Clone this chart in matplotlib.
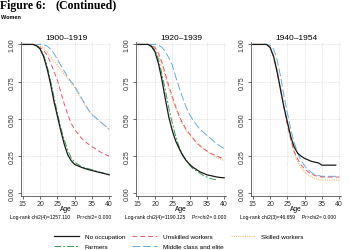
import numpy as np
import matplotlib
matplotlib.use("Agg")
import matplotlib.pyplot as plt
from matplotlib.lines import Line2D

plt.rcParams['font.family'] = ['Liberation Sans', 'DejaVu Sans']

age = [15, 18, 19, 20, 21, 22, 23, 24, 25, 26, 27, 28, 29, 30, 31, 32, 33, 34, 35, 36, 37, 38, 39, 40]

# 1900-1919
p1_none = [1, 1, 0.99, 0.97, 0.92, 0.84, 0.74, 0.62, 0.52, 0.42, 0.33, 0.26, 0.22, 0.195, 0.185, 0.175, 0.167, 0.16, 0.154, 0.148, 0.142, 0.137, 0.131, 0.125]
p1_farm = [1, 1, 0.99, 0.975, 0.93, 0.86, 0.76, 0.65, 0.54, 0.44, 0.36, 0.29, 0.24, 0.21, 0.195, 0.18, 0.172, 0.166, 0.16, 0.152, 0.145, 0.139, 0.133, 0.128]
p1_unsk = [1, 1, 0.99, 0.98, 0.96, 0.93, 0.88, 0.82, 0.76, 0.68, 0.60, 0.53, 0.47, 0.43, 0.40, 0.37, 0.35, 0.33, 0.315, 0.30, 0.285, 0.27, 0.26, 0.25]
p1_skil = [1, 1, 0.995, 0.99, 0.975, 0.95, 0.92, 0.89, 0.86, 0.83, 0.80, 0.77, 0.74, 0.71, 0.67, 0.63, 0.59, 0.56, 0.53, 0.51, 0.49, 0.47, 0.45, 0.43]
p1_midd = [1, 1, 1, 1, 0.998, 0.99, 0.97, 0.94, 0.90, 0.86, 0.82, 0.78, 0.75, 0.72, 0.68, 0.64, 0.60, 0.56, 0.53, 0.51, 0.49, 0.47, 0.45, 0.43]

# 1920-1939
p2_none = [1, 1, 0.985, 0.95, 0.87, 0.76, 0.63, 0.51, 0.42, 0.35, 0.30, 0.255, 0.22, 0.195, 0.175, 0.16, 0.145, 0.135, 0.125, 0.12, 0.115, 0.11, 0.107, 0.105]
p2_farm = [1, 1, 0.99, 0.96, 0.90, 0.80, 0.69, 0.57, 0.47, 0.38, 0.31, 0.26, 0.225, 0.19, 0.165, 0.15, 0.135, 0.12, 0.11, 0.10, 0.095, 0.09]
p2_unsk = [1, 1, 0.995, 0.98, 0.94, 0.88, 0.80, 0.72, 0.65, 0.58, 0.52, 0.47, 0.43, 0.40, 0.37, 0.34, 0.32, 0.30, 0.285, 0.27, 0.26, 0.25, 0.24, 0.23]
p2_skil = [1, 1, 0.99, 0.97, 0.93, 0.86, 0.78, 0.70, 0.63, 0.57, 0.51, 0.46, 0.42, 0.39, 0.365, 0.34, 0.32, 0.30, 0.285, 0.27, 0.255, 0.24, 0.23, 0.22]
p2_midd = [1, 1, 1, 1, 0.995, 0.98, 0.95, 0.91, 0.86, 0.78, 0.71, 0.64, 0.58, 0.53, 0.49, 0.46, 0.43, 0.41, 0.39, 0.37, 0.35, 0.33, 0.315, 0.30]

# 1940-1954 (no farmers)
p3_none = [1, 1, 1, 0.98, 0.92, 0.82, 0.70, 0.58, 0.48, 0.38, 0.31, 0.27, 0.25, 0.235, 0.225, 0.215, 0.21, 0.205, 0.19, 0.19, 0.19, 0.19, 0.19]
p3_unsk = [1, 1, 1, 0.98, 0.92, 0.82, 0.70, 0.58, 0.46, 0.36, 0.28, 0.23, 0.19, 0.165, 0.145, 0.13, 0.12, 0.115, 0.11, 0.11, 0.11, 0.11, 0.11, 0.11]
p3_skil = [1, 1, 1, 0.98, 0.93, 0.84, 0.72, 0.59, 0.47, 0.36, 0.27, 0.21, 0.17, 0.145, 0.125, 0.11, 0.10, 0.095, 0.09, 0.09, 0.09, 0.09, 0.09, 0.09]
p3_midd = [1, 1, 1, 0.995, 0.97, 0.90, 0.79, 0.66, 0.54, 0.43, 0.34, 0.27, 0.22, 0.185, 0.16, 0.14, 0.125, 0.12, 0.115, 0.115, 0.115, 0.115, 0.115, 0.115]

titles = ["1900\u20131919", "1920\u20131939", "1940\u20131954"]
notes = ["Log-rank chi2(4)=1257.110     Pr>chi2= 0.000",
         "Log-rank chi2(4)=1190.125     Pr>chi2= 0.000",
         "Log-rank chi2(3)=46.659     Pr>chi2= 0.000"]
labels = ["No occupation", "Farmers", "Unskilled workers", "Middle class and elite", "Skilled workers"]
xticks = [15, 20, 25, 30, 35, 40]
yticks = [0.0, 0.25, 0.5, 0.75, 1.0]
ytlabels = ["0.00", "0.25", "0.50", "0.75", "1.00"]

styles = {
    "No occupation": dict(color="#1a1a1a", lw=0.9, ls="-"),
    "Farmers": dict(color="#3f9a55", lw=0.7, ls=(0, (7, 2, 2, 2))),
    "Unskilled workers": dict(color="#e2586e", lw=0.7, ls=(0, (5, 3))),
    "Middle class and elite": dict(color="#63aedb", lw=0.7, ls=(0, (8, 3))),
    "Skilled workers": dict(color="#efc070", lw=0.8, ls=(0, (1, 1))),
}

panels = [
    {"No occupation": p1_none, "Farmers": p1_farm, "Unskilled workers": p1_unsk,
     "Skilled workers": p1_skil, "Middle class and elite": p1_midd},
    {"No occupation": p2_none, "Farmers": p2_farm, "Unskilled workers": p2_unsk,
     "Skilled workers": p2_skil, "Middle class and elite": p2_midd},
    {"No occupation": p3_none, "Unskilled workers": p3_unsk,
     "Skilled workers": p3_skil, "Middle class and elite": p3_midd},
]
draw_order = ["Skilled workers", "Middle class and elite", "Unskilled workers", "Farmers", "No occupation"]

fig = plt.figure(figsize=(3.5, 2.51), dpi=100)
fig.patch.set_facecolor("white")

lefts = [20.7, 135.7, 250.7]
for i, left in enumerate(lefts):
    ax = fig.add_axes([left / 350, 1 - 196.7 / 251, 90.6 / 350, 153.5 / 251])
    for name in draw_order:
        if name in panels[i]:
            ys = panels[i][name]
            ax.plot(age[:len(ys)], ys, **styles[name])
    ax.set_xlim(14.4, 40.6)
    ax.set_ylim(-0.015, 1.015)
    ax.set_xticks(xticks)
    ax.set_yticks(yticks)
    ax.set_yticklabels(ytlabels, rotation=90, va="center")
    ax.tick_params(labelsize=5, length=2, width=0.5, pad=1.5, colors="#333333")
    ax.tick_params(axis="x", pad=0.8)
    ax.grid(True, color="#cccccc", lw=0.5, ls=(0, (1, 1.5)))
    for s in ["top", "right"]:
        ax.spines[s].set_visible(False)
    for s in ["left", "bottom"]:
        ax.spines[s].set_linewidth(0.5)
        ax.spines[s].set_color("#333333")
    ax.set_title(titles[i], fontsize=6, pad=2.5)
    ax.set_xlabel("Age", fontsize=4.8, labelpad=-1.2)
    fig.text((left - 10.5) / 350, 1 - 218 / 251, notes[i], fontsize=3.6, va="center", ha="left")

fig.text(0, 1 - 8.5 / 251, "Figure 6:", fontsize=8.5, fontweight="bold",
         family="Liberation Serif", ha="left", va="baseline")
fig.text(56 / 350, 1 - 8.5 / 251, "(Continued)", fontsize=8.5, fontweight="bold",
         family="Liberation Serif", ha="left", va="baseline")
fig.text(1 / 350, 1 - 17.5 / 251, "Women", fontsize=4, fontweight="bold", ha="left", va="center")

handles = [Line2D([], [], **styles[n]) for n in labels]
fig.legend(handles, labels, loc="upper left", bbox_to_anchor=(54 / 350, 1 - 234.5 / 251),
           ncol=3, frameon=False, fontsize=4.6, handlelength=3.9, handletextpad=0.9,
           columnspacing=1.1, labelspacing=0.75, borderpad=0, borderaxespad=0)

fig.savefig("out.png", dpi=100)
